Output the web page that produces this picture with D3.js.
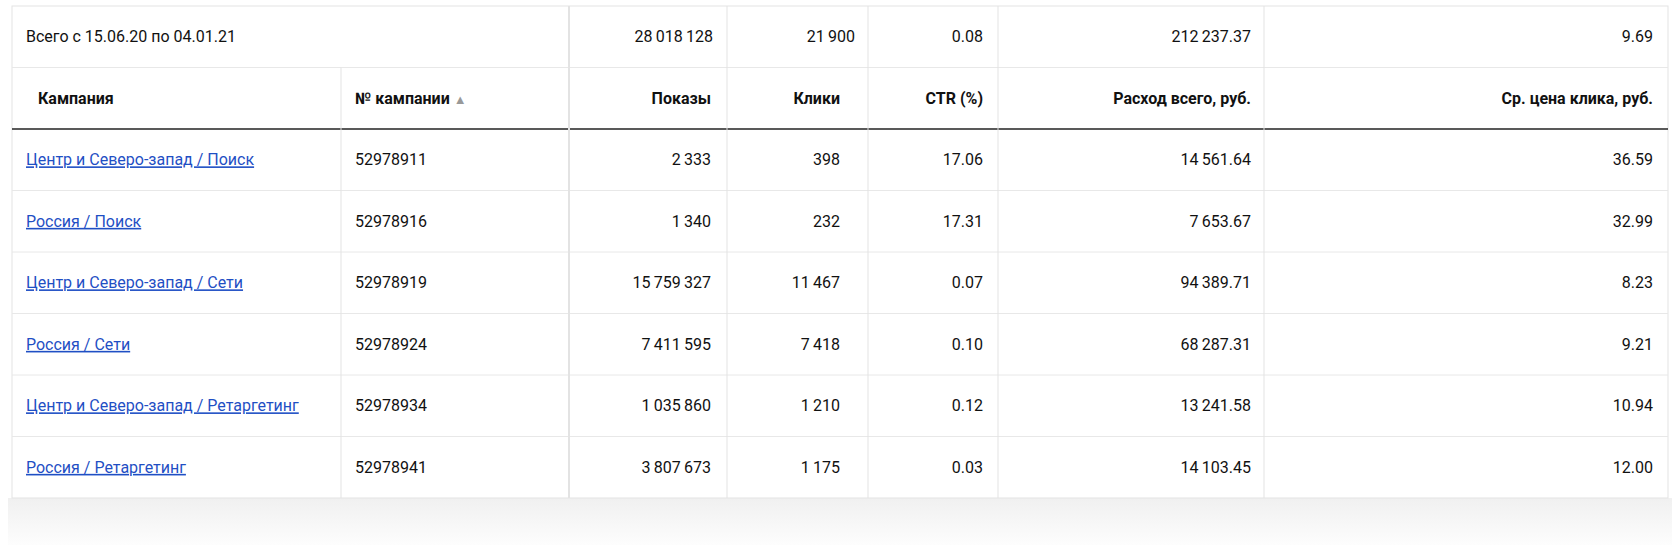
<!DOCTYPE html>
<html><head><meta charset="utf-8">
<script src="https://cdn.jsdelivr.net/npm/d3@7"></script>
<style>body{margin:0;background:#fff}svg{display:block}</style>
</head><body><svg id="c" width="1680" height="545"></svg>
<script>
const headers=["Кампания","№ кампании ▲","Показы","Клики","CTR (%)","Расход всего, руб.","Ср. цена клика, руб."];
const campaigns=["Центр и Северо-запад / Поиск","Россия / Поиск","Центр и Северо-запад / Сети","Россия / Сети","Центр и Северо-запад / Ретаргетинг","Россия / Ретаргетинг"];
const ids=["52978911","52978916","52978919","52978924","52978934","52978941"];
const shows=["2 333","1 340","15 759 327","7 411 595","1 035 860","3 807 673"];
const clicks=["398","232","11 467","7 418","1 210","1 175"];
const ctr=["17.06","17.31","0.07","0.10","0.12","0.03"];
const spend=["14 561.64","7 653.67","94 389.71","68 287.31","13 241.58","14 103.45"];
const cpc=["36.59","32.99","8.23","9.21","10.94","12.00"];
const totalLabel="Всего с 15.06.20 по 04.01.21";
const totals=["28 018 128","21 900","0.08","212 237.37","9.69"];

const svg=d3.select("#c");
const colEdges=[12,341,569,727,868,998,1264,1668];
const y=d3.scaleBand().domain(d3.range(8)).range([6,498]);
const font="Roboto, 'Noto Sans', sans-serif";
const num=s=>s.replace(/ /g,"\u2009");
const g=svg.append("defs").append("linearGradient").attr("id","sh").attr("x1",0).attr("x2",0).attr("y1",0).attr("y2",1);
g.append("stop").attr("offset",0).attr("stop-color","#f0f0f0");
g.append("stop").attr("offset",1).attr("stop-color","#fdfdfd");
svg.append("rect").attr("x",8).attr("y",498).attr("width",1664).attr("height",47).attr("fill","url(#sh)");
svg.append("rect").attr("x",colEdges[0]).attr("y",6).attr("width",colEdges[7]-colEdges[0]).attr("height",492).attr("fill","#fff").attr("stroke","#e3e3e3");
d3.range(1,8).forEach(i=>{
  svg.append("line").attr("x1",12).attr("x2",1668).attr("y1",y(i)).attr("y2",y(i))
   .attr("stroke",i===2?"#222":"#e8e8e8").attr("stroke-width",i===2?1.5:1);
});
colEdges.slice(1,7).forEach((x,j)=>{
  svg.append("line").attr("x1",x).attr("x2",x).attr("y1",j===0?y(1):6).attr("y2",498)
   .attr("stroke","#e3e3e3").attr("stroke-width",j===1?2:1);
});
function txt(x,row,s,anchor,opts={}){
  const t=svg.append("text").attr("x",x).attr("y",y(row)+y.bandwidth()/2).attr("dy","0.35em")
   .attr("text-anchor",anchor).attr("font-family",font).attr("font-size",16)
   .attr("fill",opts.fill||"#111").attr("font-weight",opts.bold?"bold":"normal").text(s);
  if(opts.u) t.attr("text-decoration","underline");
  return t;
}
txt(26,0,totalLabel,"start");
const rEnd=[713,855,983,1251,1653];
totals.forEach((v,i)=>txt(rEnd[i],0,num(v),"end"));
txt(38,1,headers[0],"start",{bold:true});
const hc=svg.append("text").attr("x",355).attr("y",y(1)+y.bandwidth()/2).attr("dy","0.35em").attr("font-family",font).attr("font-size",16).attr("font-weight","bold").attr("fill","#111");
hc.append("tspan").text("№ кампании ");
hc.append("tspan").attr("fill","#999").attr("font-size",13).text("▲");
const dEnd=[711,840,983,1251,1653];
headers.slice(2).forEach((h,i)=>txt(dEnd[i],1,h,"end",{bold:true}));
campaigns.forEach((c,r)=>{
  const row=r+2;
  txt(26,row,c,"start",{fill:"#1f4fc4",u:true});
  txt(355,row,ids[r],"start");
  [shows,clicks,ctr,spend,cpc].forEach((arr,i)=>txt(dEnd[i],row,num(arr[r]),"end"));
});
</script></body></html>
